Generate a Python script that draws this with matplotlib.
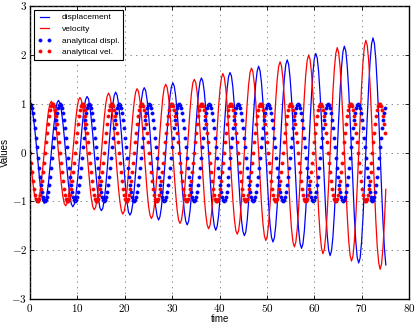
import matplotlib

matplotlib.use("Agg")
import matplotlib.pyplot as plt
from matplotlib.ticker import FuncFormatter

t_num = [
    0.00, 0.30, 0.60, 0.90, 1.21, 1.51, 1.81, 2.11, 2.41, 2.71, 3.02, 3.32, 3.62, 3.92, 4.22, 4.52, 4.82, 5.13, 5.43, 5.73,
    6.03, 6.33, 6.63, 6.93, 7.24, 7.54, 7.84, 8.14, 8.44, 8.74, 9.05, 9.35, 9.65, 9.95, 10.25, 10.55, 10.85, 11.16, 11.46, 11.76,
    12.06, 12.36, 12.66, 12.96, 13.27, 13.57, 13.87, 14.17, 14.47, 14.77, 15.08, 15.38, 15.68, 15.98, 16.28, 16.58, 16.88, 17.19, 17.49, 17.79,
    18.09, 18.39, 18.69, 18.99, 19.30, 19.60, 19.90, 20.20, 20.50, 20.80, 21.11, 21.41, 21.71, 22.01, 22.31, 22.61, 22.91, 23.22, 23.52, 23.82,
    24.12, 24.42, 24.72, 25.02, 25.33, 25.63, 25.93, 26.23, 26.53, 26.83, 27.14, 27.44, 27.74, 28.04, 28.34, 28.64, 28.94, 29.25, 29.55, 29.85,
    30.15, 30.45, 30.75, 31.05, 31.36, 31.66, 31.96, 32.26, 32.56, 32.86, 33.17, 33.47, 33.77, 34.07, 34.37, 34.67, 34.97, 35.28, 35.58, 35.88,
    36.18, 36.48, 36.78, 37.08, 37.39, 37.69, 37.99, 38.29, 38.59, 38.89, 39.20, 39.50, 39.80, 40.10, 40.40, 40.70, 41.00, 41.31, 41.61, 41.91,
    42.21, 42.51, 42.81, 43.11, 43.42, 43.72, 44.02, 44.32, 44.62, 44.92, 45.23, 45.53, 45.83, 46.13, 46.43, 46.73, 47.03, 47.34, 47.64, 47.94,
    48.24, 48.54, 48.84, 49.14, 49.45, 49.75, 50.05, 50.35, 50.65, 50.95, 51.26, 51.56, 51.86, 52.16, 52.46, 52.76, 53.06, 53.37, 53.67, 53.97,
    54.27, 54.57, 54.87, 55.17, 55.48, 55.78, 56.08, 56.38, 56.68, 56.98, 57.29, 57.59, 57.89, 58.19, 58.49, 58.79, 59.09, 59.40, 59.70, 60.00,
    60.30, 60.60, 60.90, 61.20, 61.51, 61.81, 62.11, 62.41, 62.71, 63.01, 63.32, 63.62, 63.92, 64.22, 64.52, 64.82, 65.12, 65.43, 65.73, 66.03,
    66.33, 66.63, 66.93, 67.23, 67.54, 67.84, 68.14, 68.44, 68.74, 69.04, 69.35, 69.65, 69.95, 70.25, 70.55, 70.85, 71.15, 71.46, 71.76, 72.06,
    72.36, 72.66, 72.96, 73.26, 73.57, 73.87, 74.17, 74.47, 74.77, 75.07,
]
displacement = [
    1.00, 0.95, 0.81, 0.59, 0.31, 0.00, -0.32, -0.60, -0.83, -0.98, -1.04, -0.99, -0.84, -0.62, -0.32, 0.00, 0.33, 0.62, 0.86, 1.02,
    1.07, 1.02, 0.87, 0.64, 0.34, 0.00, -0.34, -0.65, -0.89, -1.05, -1.11, -1.06, -0.91, -0.66, -0.35, 0.00, 0.35, 0.67, 0.93, 1.09,
    1.15, 1.10, 0.94, 0.68, 0.36, 0.00, -0.36, -0.69, -0.96, -1.13, -1.19, -1.14, -0.97, -0.71, -0.37, 0.00, 0.38, 0.72, 0.99, 1.17,
    1.24, 1.18, 1.01, 0.74, 0.39, 0.00, -0.39, -0.75, -1.03, -1.22, -1.28, -1.22, -1.04, -0.76, -0.40, 0.00, 0.40, 0.77, 1.07, 1.26,
    1.33, 1.27, 1.08, 0.79, 0.42, 0.00, -0.42, -0.80, -1.11, -1.30, -1.38, -1.31, -1.12, -0.82, -0.43, 0.00, 0.43, 0.83, 1.15, 1.35,
    1.43, 1.36, 1.16, 0.85, 0.45, 0.00, -0.45, -0.86, -1.19, -1.40, -1.48, -1.41, -1.20, -0.88, -0.46, 0.00, 0.47, 0.89, 1.23, 1.45,
    1.53, 1.46, 1.25, 0.91, 0.48, 0.00, -0.48, -0.92, -1.27, -1.50, -1.59, -1.51, -1.29, -0.94, -0.50, 0.00, 0.50, 0.96, 1.32, 1.56,
    1.64, 1.57, 1.34, 0.98, 0.52, 0.00, -0.52, -0.99, -1.37, -1.61, -1.70, -1.63, -1.39, -1.01, -0.53, 0.00, 0.54, 1.03, 1.42, 1.67,
    1.77, 1.68, 1.44, 1.05, 0.55, 0.00, -0.56, -1.06, -1.47, -1.73, -1.83, -1.75, -1.49, -1.09, -0.57, 0.00, 0.58, 1.10, 1.52, 1.80,
    1.90, 1.81, 1.54, 1.13, 0.59, 0.00, -0.60, -1.14, -1.58, -1.86, -1.96, -1.87, -1.60, -1.17, -0.62, 0.00, 0.62, 1.18, 1.63, 1.93,
    2.03, 1.94, 1.66, 1.21, 0.64, 0.00, -0.64, -1.23, -1.69, -2.00, -2.11, -2.01, -1.72, -1.25, -0.66, 0.00, 0.67, 1.27, 1.75, 2.07,
    2.18, 2.08, 1.78, 1.30, 0.68, 0.00, -0.69, -1.32, -1.82, -2.15, -2.26, -2.16, -1.84, -1.34, -0.71, 0.00, 0.71, 1.36, 1.88, 2.22,
    2.35, 2.24, 1.91, 1.39, 0.74, 0.00, -0.74, -1.41, -1.95, -2.30,
]
velocity = [
    0.00, -0.31, -0.59, -0.82, -0.96, -1.02, -0.97, -0.83, -0.60, -0.32, 0.00, 0.32, 0.61, 0.85, 1.00, 1.05, 1.01, 0.86, 0.63, 0.33,
    0.00, -0.33, -0.64, -0.88, -1.04, -1.09, -1.04, -0.89, -0.65, -0.34, 0.00, 0.34, 0.66, 0.91, 1.07, 1.13, 1.08, 0.92, 0.67, 0.35,
    0.00, -0.36, -0.68, -0.94, -1.11, -1.17, -1.12, -0.96, -0.70, -0.37, 0.00, 0.37, 0.71, 0.98, 1.15, 1.22, 1.16, 0.99, 0.72, 0.38,
    0.00, -0.38, -0.73, -1.01, -1.19, -1.26, -1.20, -1.03, -0.75, -0.39, 0.00, 0.40, 0.76, 1.05, 1.24, 1.31, 1.25, 1.06, 0.78, 0.41,
    0.00, -0.41, -0.79, -1.09, -1.28, -1.35, -1.29, -1.10, -0.80, -0.42, 0.00, 0.43, 0.81, 1.13, 1.33, 1.40, 1.34, 1.14, 0.83, 0.44,
    0.00, -0.44, -0.84, -1.17, -1.38, -1.45, -1.39, -1.18, -0.86, -0.46, 0.00, 0.46, 0.87, 1.21, 1.43, 1.50, 1.44, 1.23, 0.89, 0.47,
    0.00, -0.47, -0.91, -1.25, -1.48, -1.56, -1.49, -1.27, -0.93, -0.49, 0.00, 0.49, 0.94, 1.30, 1.53, 1.62, 1.54, 1.32, 0.96, 0.51,
    0.00, -0.51, -0.97, -1.34, -1.59, -1.67, -1.60, -1.36, -0.99, -0.52, 0.00, 0.53, 1.01, 1.39, 1.64, 1.73, 1.66, 1.41, 1.03, 0.54,
    0.00, -0.55, -1.04, -1.44, -1.70, -1.80, -1.72, -1.46, -1.07, -0.56, 0.00, 0.57, 1.08, 1.50, 1.76, 1.86, 1.78, 1.52, 1.11, 0.58,
    0.00, -0.59, -1.12, -1.55, -1.83, -1.93, -1.84, -1.57, -1.15, -0.60, 0.00, 0.61, 1.16, 1.61, 1.89, 2.00, 1.91, 1.63, 1.19, 0.63,
    0.00, -0.63, -1.20, -1.66, -1.96, -2.07, -1.98, -1.69, -1.23, -0.65, 0.00, 0.65, 1.25, 1.72, 2.03, 2.15, 2.05, 1.75, 1.27, 0.67,
    0.00, -0.68, -1.29, -1.79, -2.11, -2.22, -2.12, -1.81, -1.32, -0.70, 0.00, 0.70, 1.34, 1.85, 2.18, 2.30, 2.20, 1.88, 1.37, 0.72,
    0.00, -0.73, -1.39, -1.92, -2.26, -2.39, -2.28, -1.95, -1.42, -0.75,
]

# analytical solution, 30 samples per period
t_exact = [
    0.00, 0.21, 0.42, 0.63, 0.84, 1.05, 1.26, 1.47, 1.68, 1.88, 2.09, 2.30, 2.51, 2.72, 2.93, 3.14, 3.35, 3.56, 3.77, 3.98, 4.19, 4.40, 4.61, 4.82, 5.03, 5.24, 5.45, 5.65, 5.86, 6.07,
    6.28, 6.49, 6.70, 6.91, 7.12, 7.33, 7.54, 7.75, 7.96, 8.17, 8.38, 8.59, 8.80, 9.01, 9.22, 9.42, 9.63, 9.84, 10.05, 10.26, 10.47, 10.68, 10.89, 11.10, 11.31, 11.52, 11.73, 11.94, 12.15, 12.36,
    12.57, 12.78, 12.99, 13.19, 13.40, 13.61, 13.82, 14.03, 14.24, 14.45, 14.66, 14.87, 15.08, 15.29, 15.50, 15.71, 15.92, 16.13, 16.34, 16.55, 16.76, 16.96, 17.17, 17.38, 17.59, 17.80, 18.01, 18.22, 18.43, 18.64,
    18.85, 19.06, 19.27, 19.48, 19.69, 19.90, 20.11, 20.32, 20.53, 20.73, 20.94, 21.15, 21.36, 21.57, 21.78, 21.99, 22.20, 22.41, 22.62, 22.83, 23.04, 23.25, 23.46, 23.67, 23.88, 24.09, 24.29, 24.50, 24.71, 24.92,
    25.13, 25.34, 25.55, 25.76, 25.97, 26.18, 26.39, 26.60, 26.81, 27.02, 27.23, 27.44, 27.65, 27.86, 28.06, 28.27, 28.48, 28.69, 28.90, 29.11, 29.32, 29.53, 29.74, 29.95, 30.16, 30.37, 30.58, 30.79, 31.00, 31.21,
    31.42, 31.63, 31.83, 32.04, 32.25, 32.46, 32.67, 32.88, 33.09, 33.30, 33.51, 33.72, 33.93, 34.14, 34.35, 34.56, 34.77, 34.98, 35.19, 35.40, 35.60, 35.81, 36.02, 36.23, 36.44, 36.65, 36.86, 37.07, 37.28, 37.49,
    37.70, 37.91, 38.12, 38.33, 38.54, 38.75, 38.96, 39.17, 39.37, 39.58, 39.79, 40.00, 40.21, 40.42, 40.63, 40.84, 41.05, 41.26, 41.47, 41.68, 41.89, 42.10, 42.31, 42.52, 42.73, 42.94, 43.14, 43.35, 43.56, 43.77,
    43.98, 44.19, 44.40, 44.61, 44.82, 45.03, 45.24, 45.45, 45.66, 45.87, 46.08, 46.29, 46.50, 46.71, 46.91, 47.12, 47.33, 47.54, 47.75, 47.96, 48.17, 48.38, 48.59, 48.80, 49.01, 49.22, 49.43, 49.64, 49.85, 50.06,
    50.27, 50.48, 50.68, 50.89, 51.10, 51.31, 51.52, 51.73, 51.94, 52.15, 52.36, 52.57, 52.78, 52.99, 53.20, 53.41, 53.62, 53.83, 54.04, 54.24, 54.45, 54.66, 54.87, 55.08, 55.29, 55.50, 55.71, 55.92, 56.13, 56.34,
    56.55, 56.76, 56.97, 57.18, 57.39, 57.60, 57.81, 58.01, 58.22, 58.43, 58.64, 58.85, 59.06, 59.27, 59.48, 59.69, 59.90, 60.11, 60.32, 60.53, 60.74, 60.95, 61.16, 61.37, 61.58, 61.78, 61.99, 62.20, 62.41, 62.62,
    62.83, 63.04, 63.25, 63.46, 63.67, 63.88, 64.09, 64.30, 64.51, 64.72, 64.93, 65.14, 65.35, 65.55, 65.76, 65.97, 66.18, 66.39, 66.60, 66.81, 67.02, 67.23, 67.44, 67.65, 67.86, 68.07, 68.28, 68.49, 68.70, 68.91,
    69.12, 69.32, 69.53, 69.74, 69.95, 70.16, 70.37, 70.58, 70.79, 71.00, 71.21, 71.42, 71.63, 71.84, 72.05, 72.26, 72.47, 72.68, 72.88, 73.09, 73.30, 73.51, 73.72, 73.93, 74.14, 74.35, 74.56, 74.77, 74.98,
]
displ_exact = [
    1.0, 0.978, 0.914, 0.809, 0.669, 0.5, 0.309, 0.105, -0.105, -0.309, -0.5, -0.669, -0.809, -0.914, -0.978, -1.0, -0.978, -0.914, -0.809, -0.669, -0.5, -0.309, -0.105, 0.105, 0.309, 0.5, 0.669, 0.809, 0.914, 0.978,
    1.0, 0.978, 0.914, 0.809, 0.669, 0.5, 0.309, 0.105, -0.105, -0.309, -0.5, -0.669, -0.809, -0.914, -0.978, -1.0, -0.978, -0.914, -0.809, -0.669, -0.5, -0.309, -0.105, 0.105, 0.309, 0.5, 0.669, 0.809, 0.914, 0.978,
    1.0, 0.978, 0.914, 0.809, 0.669, 0.5, 0.309, 0.105, -0.105, -0.309, -0.5, -0.669, -0.809, -0.914, -0.978, -1.0, -0.978, -0.914, -0.809, -0.669, -0.5, -0.309, -0.105, 0.105, 0.309, 0.5, 0.669, 0.809, 0.914, 0.978,
    1.0, 0.978, 0.914, 0.809, 0.669, 0.5, 0.309, 0.105, -0.105, -0.309, -0.5, -0.669, -0.809, -0.914, -0.978, -1.0, -0.978, -0.914, -0.809, -0.669, -0.5, -0.309, -0.105, 0.105, 0.309, 0.5, 0.669, 0.809, 0.914, 0.978,
    1.0, 0.978, 0.914, 0.809, 0.669, 0.5, 0.309, 0.105, -0.105, -0.309, -0.5, -0.669, -0.809, -0.914, -0.978, -1.0, -0.978, -0.914, -0.809, -0.669, -0.5, -0.309, -0.105, 0.105, 0.309, 0.5, 0.669, 0.809, 0.914, 0.978,
    1.0, 0.978, 0.914, 0.809, 0.669, 0.5, 0.309, 0.105, -0.105, -0.309, -0.5, -0.669, -0.809, -0.914, -0.978, -1.0, -0.978, -0.914, -0.809, -0.669, -0.5, -0.309, -0.105, 0.105, 0.309, 0.5, 0.669, 0.809, 0.914, 0.978,
    1.0, 0.978, 0.914, 0.809, 0.669, 0.5, 0.309, 0.105, -0.105, -0.309, -0.5, -0.669, -0.809, -0.914, -0.978, -1.0, -0.978, -0.914, -0.809, -0.669, -0.5, -0.309, -0.105, 0.105, 0.309, 0.5, 0.669, 0.809, 0.914, 0.978,
    1.0, 0.978, 0.914, 0.809, 0.669, 0.5, 0.309, 0.105, -0.105, -0.309, -0.5, -0.669, -0.809, -0.914, -0.978, -1.0, -0.978, -0.914, -0.809, -0.669, -0.5, -0.309, -0.105, 0.105, 0.309, 0.5, 0.669, 0.809, 0.914, 0.978,
    1.0, 0.978, 0.914, 0.809, 0.669, 0.5, 0.309, 0.105, -0.105, -0.309, -0.5, -0.669, -0.809, -0.914, -0.978, -1.0, -0.978, -0.914, -0.809, -0.669, -0.5, -0.309, -0.105, 0.105, 0.309, 0.5, 0.669, 0.809, 0.914, 0.978,
    1.0, 0.978, 0.914, 0.809, 0.669, 0.5, 0.309, 0.105, -0.105, -0.309, -0.5, -0.669, -0.809, -0.914, -0.978, -1.0, -0.978, -0.914, -0.809, -0.669, -0.5, -0.309, -0.105, 0.105, 0.309, 0.5, 0.669, 0.809, 0.914, 0.978,
    1.0, 0.978, 0.914, 0.809, 0.669, 0.5, 0.309, 0.105, -0.105, -0.309, -0.5, -0.669, -0.809, -0.914, -0.978, -1.0, -0.978, -0.914, -0.809, -0.669, -0.5, -0.309, -0.105, 0.105, 0.309, 0.5, 0.669, 0.809, 0.914, 0.978,
    1.0, 0.978, 0.914, 0.809, 0.669, 0.5, 0.309, 0.105, -0.105, -0.309, -0.5, -0.669, -0.809, -0.914, -0.978, -1.0, -0.978, -0.914, -0.809, -0.669, -0.5, -0.309, -0.105, 0.105, 0.309, 0.5, 0.669, 0.809, 0.914,
]
vel_exact = [
    0.0, -0.208, -0.407, -0.588, -0.743, -0.866, -0.951, -0.995, -0.995, -0.951, -0.866, -0.743, -0.588, -0.407, -0.208, 0.0, 0.208, 0.407, 0.588, 0.743, 0.866, 0.951, 0.995, 0.995, 0.951, 0.866, 0.743, 0.588, 0.407, 0.208,
    0.0, -0.208, -0.407, -0.588, -0.743, -0.866, -0.951, -0.995, -0.995, -0.951, -0.866, -0.743, -0.588, -0.407, -0.208, 0.0, 0.208, 0.407, 0.588, 0.743, 0.866, 0.951, 0.995, 0.995, 0.951, 0.866, 0.743, 0.588, 0.407, 0.208,
    0.0, -0.208, -0.407, -0.588, -0.743, -0.866, -0.951, -0.995, -0.995, -0.951, -0.866, -0.743, -0.588, -0.407, -0.208, 0.0, 0.208, 0.407, 0.588, 0.743, 0.866, 0.951, 0.995, 0.995, 0.951, 0.866, 0.743, 0.588, 0.407, 0.208,
    0.0, -0.208, -0.407, -0.588, -0.743, -0.866, -0.951, -0.995, -0.995, -0.951, -0.866, -0.743, -0.588, -0.407, -0.208, 0.0, 0.208, 0.407, 0.588, 0.743, 0.866, 0.951, 0.995, 0.995, 0.951, 0.866, 0.743, 0.588, 0.407, 0.208,
    0.0, -0.208, -0.407, -0.588, -0.743, -0.866, -0.951, -0.995, -0.995, -0.951, -0.866, -0.743, -0.588, -0.407, -0.208, 0.0, 0.208, 0.407, 0.588, 0.743, 0.866, 0.951, 0.995, 0.995, 0.951, 0.866, 0.743, 0.588, 0.407, 0.208,
    0.0, -0.208, -0.407, -0.588, -0.743, -0.866, -0.951, -0.995, -0.995, -0.951, -0.866, -0.743, -0.588, -0.407, -0.208, 0.0, 0.208, 0.407, 0.588, 0.743, 0.866, 0.951, 0.995, 0.995, 0.951, 0.866, 0.743, 0.588, 0.407, 0.208,
    0.0, -0.208, -0.407, -0.588, -0.743, -0.866, -0.951, -0.995, -0.995, -0.951, -0.866, -0.743, -0.588, -0.407, -0.208, 0.0, 0.208, 0.407, 0.588, 0.743, 0.866, 0.951, 0.995, 0.995, 0.951, 0.866, 0.743, 0.588, 0.407, 0.208,
    0.0, -0.208, -0.407, -0.588, -0.743, -0.866, -0.951, -0.995, -0.995, -0.951, -0.866, -0.743, -0.588, -0.407, -0.208, 0.0, 0.208, 0.407, 0.588, 0.743, 0.866, 0.951, 0.995, 0.995, 0.951, 0.866, 0.743, 0.588, 0.407, 0.208,
    0.0, -0.208, -0.407, -0.588, -0.743, -0.866, -0.951, -0.995, -0.995, -0.951, -0.866, -0.743, -0.588, -0.407, -0.208, 0.0, 0.208, 0.407, 0.588, 0.743, 0.866, 0.951, 0.995, 0.995, 0.951, 0.866, 0.743, 0.588, 0.407, 0.208,
    0.0, -0.208, -0.407, -0.588, -0.743, -0.866, -0.951, -0.995, -0.995, -0.951, -0.866, -0.743, -0.588, -0.407, -0.208, 0.0, 0.208, 0.407, 0.588, 0.743, 0.866, 0.951, 0.995, 0.995, 0.951, 0.866, 0.743, 0.588, 0.407, 0.208,
    0.0, -0.208, -0.407, -0.588, -0.743, -0.866, -0.951, -0.995, -0.995, -0.951, -0.866, -0.743, -0.588, -0.407, -0.208, 0.0, 0.208, 0.407, 0.588, 0.743, 0.866, 0.951, 0.995, 0.995, 0.951, 0.866, 0.743, 0.588, 0.407, 0.208,
    0.0, -0.208, -0.407, -0.588, -0.743, -0.866, -0.951, -0.995, -0.995, -0.951, -0.866, -0.743, -0.588, -0.407, -0.208, 0.0, 0.208, 0.407, 0.588, 0.743, 0.866, 0.951, 0.995, 0.995, 0.951, 0.866, 0.743, 0.588, 0.407,
]

x_ticks = [0, 10, 20, 30, 40, 50, 60, 70, 80]
y_ticks = [-3, -2, -1, 0, 1, 2, 3]

plt.style.use("classic")
plt.rcParams["mathtext.fontset"] = "cm"
plt.rcParams["font.family"] = ["Liberation Sans", "DejaVu Sans"]

fig = plt.figure(figsize=(4.15, 3.23), dpi=100, facecolor="white")
ax = fig.add_axes([0.072, 0.074, 0.914, 0.907])

ax.plot(t_num, displacement, "b-", lw=0.9, label="displacement")
ax.plot(t_num, velocity, "r-", lw=0.9, label="velocity")
ax.plot(t_exact, displ_exact, "b.", ms=4.5, label="analytical displ.")
ax.plot(t_exact, vel_exact, "r.", ms=4.5, label="analytical vel.")

ax.set_xlim(0, 80)
ax.set_ylim(-3, 3)
ax.set_xticks(x_ticks)
ax.set_yticks(y_ticks)
fmt = FuncFormatter(lambda v, pos: r"$%d$" % v)
ax.xaxis.set_major_formatter(fmt)
ax.yaxis.set_major_formatter(fmt)
ax.tick_params(labelsize=8, length=3, width=0.6, pad=2)
ax.grid(True, color="0.35", linestyle=":", linewidth=0.5)
for s in ax.spines.values():
    s.set_linewidth(1.0)

ax.set_xlabel("time", fontsize=7, labelpad=0)
ax.set_ylabel("Values", fontsize=7, labelpad=1)

leg = ax.legend(loc="upper left", fontsize=6, numpoints=2, handlelength=1.7,
                borderaxespad=0.45, labelspacing=0.45, handletextpad=1.2, borderpad=0.45)
leg.get_frame().set_linewidth(0.8)

fig.savefig("out.png", dpi=100, facecolor="white")
